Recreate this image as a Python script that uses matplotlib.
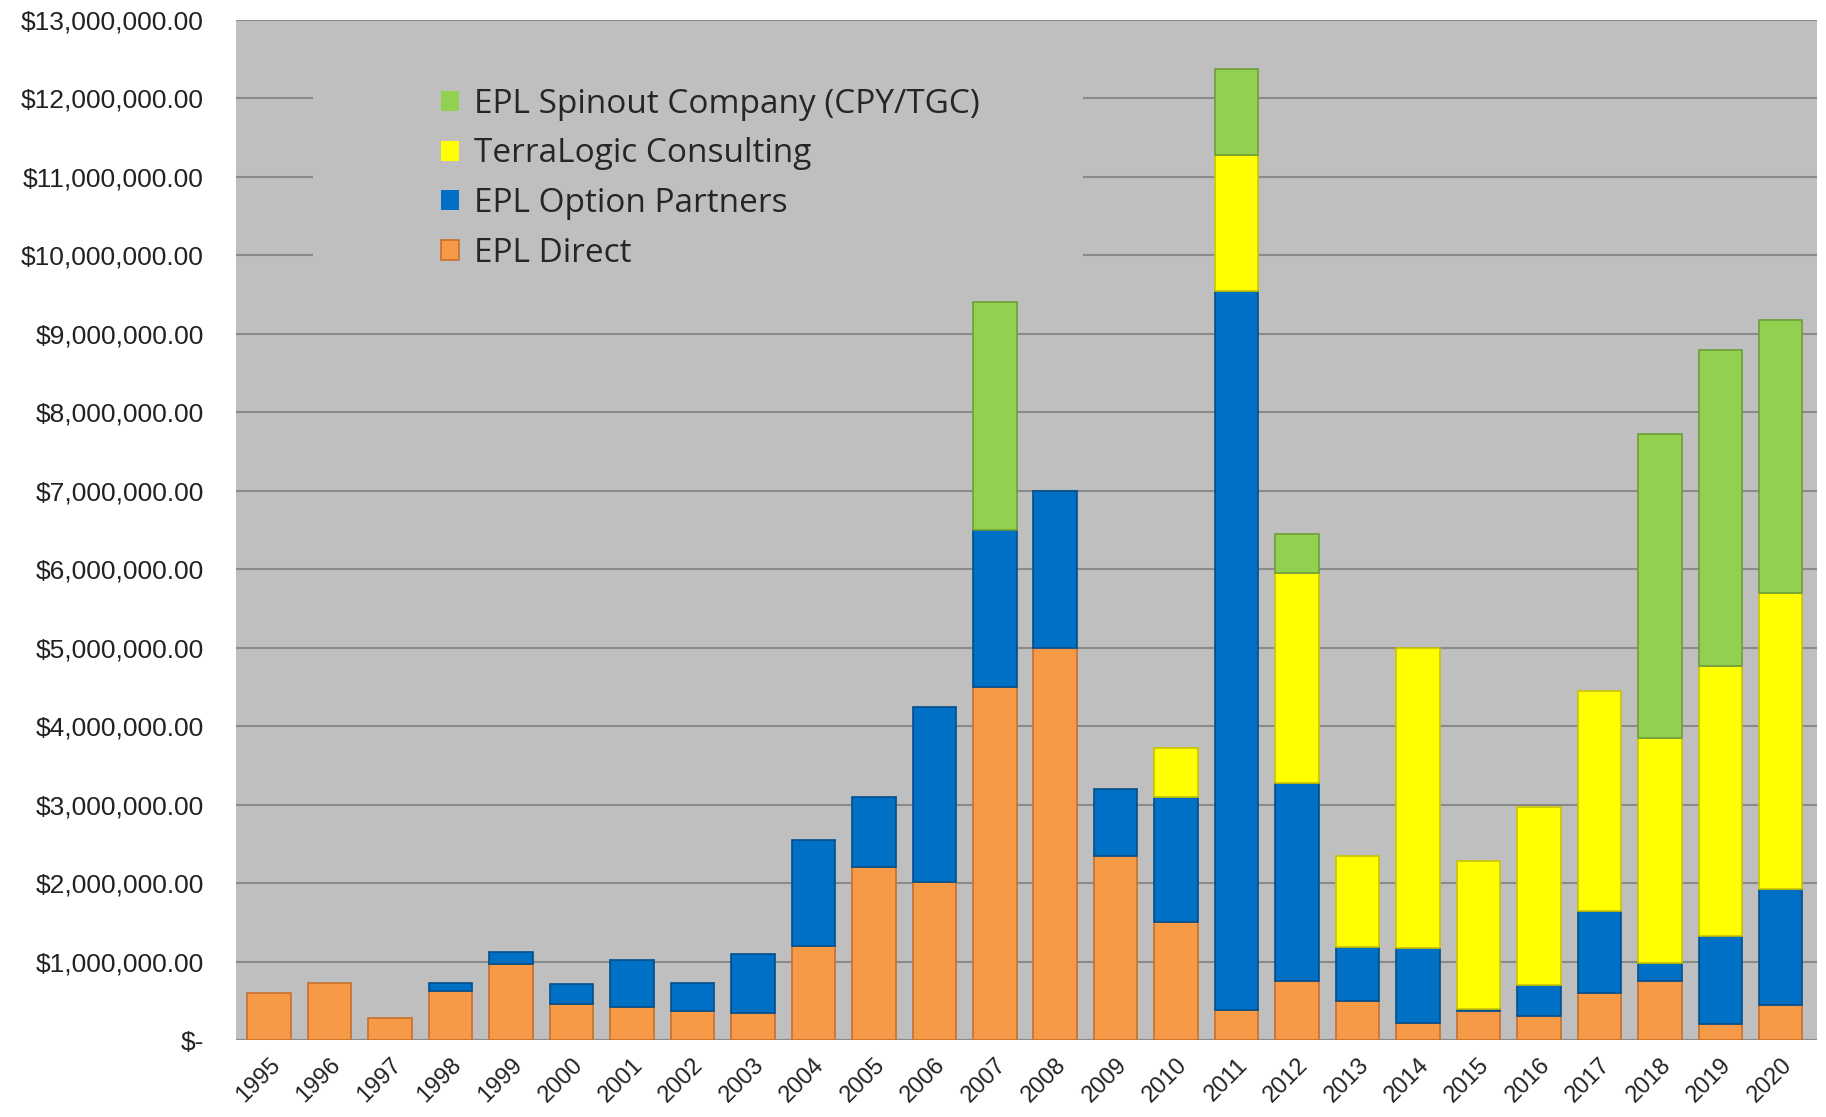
import numpy as np
import matplotlib
matplotlib.use("Agg")
from matplotlib import pyplot as plt
from matplotlib.ticker import FuncFormatter
from matplotlib.patches import Rectangle

years = [str(y) for y in range(1995, 2021)]

# values in $M
epl_direct = [0.60, 0.73, 0.28, 0.63, 0.97, 0.46, 0.42, 0.37, 0.35, 1.20,
              2.20, 2.02, 4.50, 5.00, 2.35, 1.50, 0.38, 0.75, 0.50, 0.22,
              0.37, 0.30, 0.60, 0.75, 0.20, 0.45]
option_partners = [0.0, 0.0, 0.0, 0.10, 0.15, 0.25, 0.60, 0.36, 0.75, 1.35,
                   0.90, 2.23, 2.00, 2.00, 0.85, 1.60, 9.17, 2.52, 0.68, 0.95,
                   0.03, 0.40, 1.05, 0.23, 1.13, 1.47]
terralogic = [0.0, 0.0, 0.0, 0.0, 0.0, 0.0, 0.0, 0.0, 0.0, 0.0,
              0.0, 0.0, 0.0, 0.0, 0.0, 0.62, 1.73, 2.68, 1.17, 3.83,
              1.88, 2.27, 2.80, 2.87, 3.44, 3.78]
spinout = [0.0, 0.0, 0.0, 0.0, 0.0, 0.0, 0.0, 0.0, 0.0, 0.0,
           0.0, 0.0, 2.90, 0.0, 0.0, 0.0, 1.10, 0.50, 0.0, 0.0,
           0.0, 0.0, 0.0, 3.87, 4.03, 3.48]

series = [
    ("EPL Direct", epl_direct, "#F79A48", "#C8702A"),
    ("EPL Option Partners", option_partners, "#0070C4", "#004F8C"),
    ("TerraLogic Consulting", terralogic, "#FFFF00", "#C9C400"),
    ("EPL Spinout Company (CPY/TGC)", spinout, "#92D050", "#6E9E3A"),
]

plt.rcParams['font.family'] = ['Open Sans', 'DejaVu Sans']
tick_font = ['Liberation Sans', 'DejaVu Sans']

fig = plt.figure(figsize=(18.26, 11.17), dpi=100)
ax = fig.add_axes([236 / 1826, 77 / 1117, 1581 / 1826, 1020 / 1117])
ax.set_facecolor("#BFBFBF")

x = np.arange(len(years))
bottom = np.zeros(len(years))
handles = []
for name, vals, col, edge in series:
    v = np.array(vals) * 1e6
    lw = np.where(v > 0, 1.2, 0.0)
    b = ax.bar(x, v, 0.72, bottom=bottom, color=col, edgecolor=edge,
               linewidth=lw, label=name, zorder=3)
    handles.append(b)
    bottom += v

ax.set_ylim(0, 13e6)
ax.set_xlim(-0.55, len(years) - 0.4)
ax.set_yticks(np.arange(0, 13.5e6, 1e6))
ax.yaxis.set_major_formatter(FuncFormatter(
    lambda v, p: "$-" if v == 0 else "${:,.2f}".format(v)))
ax.grid(axis="y", color="#8A8A8A", linewidth=1.5, zorder=1)
ax.set_axisbelow(True)

ax.set_xticks(x)
ax.set_xticklabels(years, rotation=45, ha="right", rotation_mode="anchor",
                   fontsize=17, color="#222222", family=tick_font)
for lab in ax.get_yticklabels():
    lab.set_family(tick_font)
ax.tick_params(axis="y", labelsize=19, length=0, pad=23, colors="#222222")
ax.tick_params(axis="x", length=0, pad=10)
for s in ax.spines.values():
    s.set_visible(False)

# gray box behind the legend hides the gridlines there
ax.add_patch(Rectangle((0.049, 0.734), 0.487, 0.228, transform=ax.transAxes,
                       facecolor="#BFBFBF", edgecolor="none", zorder=2))

leg = ax.legend(handles[::-1], [s[0] for s in series][::-1],
                loc="upper left", bbox_to_anchor=(0.119, 0.95),
                fontsize=24, frameon=False, borderpad=0,
                handlelength=0.55, handleheight=0.55,
                handletextpad=0.45, labelspacing=0.5)
for t in leg.get_texts():
    t.set_color("#262626")

fig.savefig("out.png", dpi=100, facecolor="white")
